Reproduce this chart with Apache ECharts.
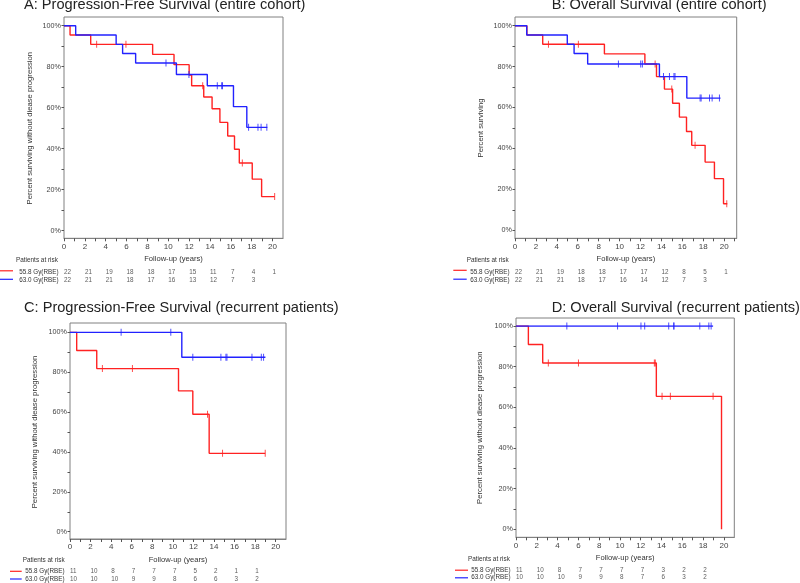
<!DOCTYPE html>
<html><head><meta charset="utf-8">
<script src="https://cdn.jsdelivr.net/npm/echarts@6/dist/echarts.min.js"></script>
<style>html,body{margin:0;padding:0;background:#fff}#c{width:800px;height:583px}</style>
</head><body><div id="c"></div>
<script>
// ---------- DATA ----------
const riskYears = [0, 2, 4, 6, 8, 10, 12, 14, 16, 18, 20];
const armLabels = ['55.8 Gy(RBE)', '63.0 Gy(RBE)'];

// A: Progression-free survival, entire cohort
const pfsAllRedTime = [0, 0.58, 2.56, 8.5, 10.55, 12.0, 12.24, 13.4, 14.2, 14.95, 15.7, 16.35, 16.81, 18.05, 18.95, 20.2];
const pfsAllRedSurv = [100, 95.45, 90.9, 86.0, 81.0, 75.9, 70.7, 65.2, 59.5, 52.8, 46.2, 39.7, 33.0, 25.1, 16.6, 16.6];
const pfsAllRedCensTime = [3.13, 5.94, 13.3, 17.1, 20.2];
const pfsAllRedCensSurv = [90.9, 90.9, 70.7, 33.0, 16.6];
const pfsAllBlueTime = [0, 1.12, 5.0, 5.62, 6.87, 10.78, 13.74, 16.25, 17.53, 19.5];
const pfsAllBlueSurv = [100, 95.45, 90.9, 86.4, 81.8, 76.2, 70.7, 60.5, 50.4, 50.4];
const pfsAllBlueCensTime = [9.78, 11.98, 14.7, 15.12, 15.2, 17.7, 18.6, 18.9, 19.45];
const pfsAllBlueCensSurv = [81.8, 76.2, 70.7, 70.7, 70.7, 50.4, 50.4, 50.4, 50.4];
const pfsAllRiskRed = [22, 21, 19, 18, 18, 17, 15, 11, 7, 4, 1];
const pfsAllRiskBlue = [22, 21, 21, 18, 17, 16, 13, 12, 7, 3];

// B: Overall survival, entire cohort
const osAllRedTime = [0, 1.14, 2.65, 8.55, 12.42, 13.53, 14.29, 15.07, 15.72, 16.4, 16.9, 18.18, 19.07, 19.94, 20.3];
const osAllRedSurv = [100, 95.45, 90.9, 86.2, 81.3, 75.1, 69.0, 62.1, 55.3, 48.3, 41.5, 33.3, 25.2, 12.9, 12.9];
const osAllRedCensTime = [3.2, 6.06, 13.4, 14.99, 17.22, 20.25];
const osAllRedCensSurv = [90.9, 90.9, 81.3, 69.0, 41.5, 12.9];
const osAllBlueTime = [0, 1.12, 5.0, 5.65, 6.95, 13.81, 16.43, 19.65];
const osAllBlueSurv = [100, 95.45, 90.9, 86.4, 81.3, 75.1, 64.6, 64.6];
const osAllBlueCensTime = [9.89, 12.02, 12.18, 14.2, 14.77, 15.2, 15.3, 17.7, 17.8, 18.6, 18.85, 19.55];
const osAllBlueCensSurv = [81.3, 81.3, 81.3, 75.1, 75.1, 75.1, 75.1, 64.6, 64.6, 64.6, 64.6, 64.6];
const osAllRiskRed = [22, 21, 19, 18, 18, 17, 17, 12, 8, 5, 1];
const osAllRiskBlue = [22, 21, 21, 18, 17, 16, 14, 12, 7, 3];

// C: Progression-free survival, recurrent patients
const pfsRecRedTime = [0, 0.65, 2.6, 10.55, 11.94, 13.53, 18.98];
const pfsRecRedSurv = [100, 90.9, 81.8, 70.6, 58.9, 39.3, 39.3];
const pfsRecRedCensTime = [3.15, 6.07, 13.37, 14.83, 18.98];
const pfsRecRedCensSurv = [81.8, 81.8, 58.9, 39.3, 39.3];
const pfsRecBlueTime = [0, 10.87, 19.0];
const pfsRecBlueSurv = [100, 87.5, 87.5];
const pfsRecBlueCensTime = [4.97, 9.8, 11.94, 14.67, 15.16, 15.26, 17.69, 18.6, 18.82];
const pfsRecBlueCensSurv = [100, 100, 87.5, 87.5, 87.5, 87.5, 87.5, 87.5, 87.5];
const pfsRecRiskRed = [11, 10, 8, 7, 7, 7, 5, 2, 1, 1];
const pfsRecRiskBlue = [10, 10, 10, 9, 9, 8, 6, 6, 3, 2];

// D: Overall survival, recurrent patients
const osRecRedTime = [0, 1.19, 2.57, 13.5, 19.77];
const osRecRedSurv = [100, 90.9, 81.8, 65.4, 0];
const osRecRedCensTime = [3.11, 6.01, 13.31, 13.4, 14.05, 14.85, 18.96];
const osRecRedCensSurv = [81.8, 81.8, 81.8, 81.8, 65.4, 65.4, 65.4];
const osRecBlueTime = [0, 18.96];
const osRecBlueSurv = [100, 100];
const osRecBlueCensTime = [4.89, 9.77, 12.02, 12.38, 14.69, 15.17, 15.2, 17.68, 18.55, 18.77];
const osRecBlueCensSurv = [100, 100, 100, 100, 100, 100, 100, 100, 100, 100];
const osRecRiskRed = [11, 10, 8, 7, 7, 7, 7, 3, 2, 2];
const osRecRiskBlue = [10, 10, 10, 9, 9, 8, 7, 6, 3, 2];

// ---------- LAYOUT / STYLE ----------
const FONT = '"Liberation Sans", Arial, sans-serif';
const RED = '#ff2222', BLUE = '#2222ff';
const panels = [
  { title: 'A: Progression-Free Survival (entire cohort)', tl: 24, tt: -2.5,
    frame: {left: 64, top: 17, width: 219, height: 221.3}, plotTop: 25.7, plotH: 204.9,
    riskTop: 268, riskH: 16, xMax: 21, yName: 'Percent surviving without diease progression', gap: 30,
    patX: 16, patY: 261.7, lineX: [0, 13], lineY: [270.8, 279.3],
    red: [pfsAllRedTime, pfsAllRedSurv, pfsAllRedCensTime, pfsAllRedCensSurv, pfsAllRiskRed],
    blue: [pfsAllBlueTime, pfsAllBlueSurv, pfsAllBlueCensTime, pfsAllBlueCensSurv, pfsAllRiskBlue] },
  { title: 'B: Overall Survival (entire cohort)', tl: 551.7, tt: -2.5,
    frame: {left: 515, top: 17, width: 221.7, height: 221.3}, plotTop: 25.7, plotH: 204.5,
    riskTop: 268, riskH: 16, xMax: 21.2, yName: 'Percent surviving', gap: 30,
    patX: 466.7, patY: 261.7, lineX: [453.3, 466.7], lineY: [270.3, 279.2],
    red: [osAllRedTime, osAllRedSurv, osAllRedCensTime, osAllRedCensSurv, osAllRiskRed],
    blue: [osAllBlueTime, osAllBlueSurv, osAllBlueCensTime, osAllBlueCensSurv, osAllRiskBlue] },
  { title: 'C: Progression-Free Survival (recurrent patients)', tl: 24, tt: 300.8,
    frame: {left: 70, top: 323, width: 216, height: 216}, plotTop: 332.3, plotH: 199.4,
    riskTop: 567.5, riskH: 15.5, xMax: 21, yName: 'Percent surviving without diease progression', gap: 31,
    patX: 22.7, patY: 561.7, lineX: [10, 21.7], lineY: [571.3, 579],
    red: [pfsRecRedTime, pfsRecRedSurv, pfsRecRedCensTime, pfsRecRedCensSurv, pfsRecRiskRed],
    blue: [pfsRecBlueTime, pfsRecBlueSurv, pfsRecBlueCensTime, pfsRecBlueCensSurv, pfsRecRiskBlue] },
  { title: 'D: Overall Survival (recurrent patients)', tl: 551.7, tt: 300.8,
    frame: {left: 516, top: 318, width: 218.3, height: 219.3}, plotTop: 326, plotH: 203.3,
    riskTop: 566.7, riskH: 14, xMax: 21, yName: 'Percent surviving without diease progression', gap: 32,
    patX: 468, patY: 560, lineX: [455, 468], lineY: [570.2, 577.8],
    red: [osRecRedTime, osRecRedSurv, osRecRedCensTime, osRecRedCensSurv, osRecRiskRed],
    blue: [osRecBlueTime, osRecBlueSurv, osRecBlueCensTime, osRecBlueCensSurv, osRecRiskBlue] }
];

const zip = (a, b) => a.map((v, i) => [v, b[i]]);
const option = { animation: false, backgroundColor: '#fff', textStyle: {fontFamily: FONT},
  title: [], grid: [], xAxis: [], yAxis: [], series: [], graphic: [] };

panels.forEach((p, k) => {
  const gF = 3 * k, gP = 3 * k + 1, gR = 3 * k + 2;
  option.title.push({ text: p.title, left: p.tl, top: p.tt, padding: 0,
    textStyle: {fontFamily: FONT, fontSize: 14.6, fontWeight: 'normal', color: '#222'} });
  option.grid.push({ left: p.frame.left, top: p.frame.top, width: p.frame.width, height: p.frame.height,
    show: true, borderColor: '#808080', borderWidth: 1, backgroundColor: 'transparent' });
  option.grid.push({ left: p.frame.left, top: p.plotTop, width: p.frame.width, height: p.plotH });
  option.grid.push({ left: p.frame.left, top: p.riskTop, width: p.frame.width, height: p.riskH });
  // frame x axis (visible ticks/labels)
  option.xAxis.push({ gridIndex: gF, type: 'value', min: 0, max: p.xMax, interval: 1,
    axisLine: {show: true, lineStyle: {color: '#808080', width: 1}},
    axisTick: {show: true, length: 3, lineStyle: {color: '#555'}},
    axisLabel: {fontSize: 8, color: '#444', margin: 4, fontFamily: FONT, showMaxLabel: false,
      formatter: v => (Math.abs(v % 2) < 1e-9 && v <= 20) ? String(v) : ''},
    splitLine: {show: false},
    name: 'Follow-up (years)', nameLocation: 'middle', nameGap: 17,
    nameTextStyle: {fontSize: 7.6, color: '#333', fontFamily: FONT} });
  option.yAxis.push({ gridIndex: gF, type: 'value', min: 0, max: 1, show: false });
  // plot axes
  option.xAxis.push({ gridIndex: gP, type: 'value', min: 0, max: p.xMax, show: false });
  option.yAxis.push({ gridIndex: gP, type: 'value', min: 0, max: 100, interval: 10,
    axisLine: {show: false},
    axisTick: {show: true, length: 2.5, lineStyle: {color: '#555'}},
    axisLabel: {fontSize: 7.2, color: '#444', margin: 3, fontFamily: FONT,
      formatter: v => (v % 20 === 0) ? v + '%' : ''},
    splitLine: {show: false},
    name: p.yName, nameLocation: 'middle', nameGap: p.gap,
    nameTextStyle: {fontSize: 7.7, color: '#333', fontFamily: FONT} });
  // risk axes
  option.xAxis.push({ gridIndex: gR, type: 'value', min: 0, max: p.xMax, show: false });
  option.yAxis.push({ gridIndex: gR, type: 'category', data: armLabels, inverse: true,
    axisLine: {show: false}, axisTick: {show: false}, splitLine: {show: false},
    axisLabel: {fontSize: 6.3, color: '#333', margin: 5.5, fontFamily: FONT, interval: 0, hideOverlap: false} });

  [[p.red, RED], [p.blue, BLUE]].forEach(([d, col], arm) => {
    option.series.push({ type: 'line', xAxisIndex: gP, yAxisIndex: gP, step: 'end',
      data: zip(d[0], d[1]), showSymbol: false, symbol: 'none',
      lineStyle: {color: col, width: 1.4}, z: 2 + arm });
    option.series.push({ type: 'scatter', xAxisIndex: gP, yAxisIndex: gP,
      data: zip(d[2], d[3]), symbol: 'rect', symbolSize: [1, 7],
      itemStyle: {color: col}, z: 2 + arm });
    option.series.push({ type: 'scatter', xAxisIndex: gR, yAxisIndex: gR,
      data: d[4].map((n, i) => [riskYears[i], arm, n]), symbolSize: 0.1,
      itemStyle: {color: 'transparent'},
      label: {show: true, position: 'right', distance: 0, formatter: q => q.value[2],
        fontSize: 6.3, color: '#333', fontFamily: FONT} });
  });

  option.graphic.push({ type: 'text', left: p.patX, top: p.patY - 4,
    style: {text: 'Patients at risk', font: '6.4px ' + FONT, fill: '#333'} });
  option.graphic.push({ type: 'line', shape: {x1: p.lineX[0], y1: p.lineY[0], x2: p.lineX[1], y2: p.lineY[0]},
    style: {stroke: RED, lineWidth: 1.2} });
  option.graphic.push({ type: 'line', shape: {x1: p.lineX[0], y1: p.lineY[1], x2: p.lineX[1], y2: p.lineY[1]},
    style: {stroke: BLUE, lineWidth: 1.2} });
});

const chart = echarts.init(document.getElementById('c'), null, {renderer: 'canvas'});
chart.setOption(option);
</script>
</body></html>
